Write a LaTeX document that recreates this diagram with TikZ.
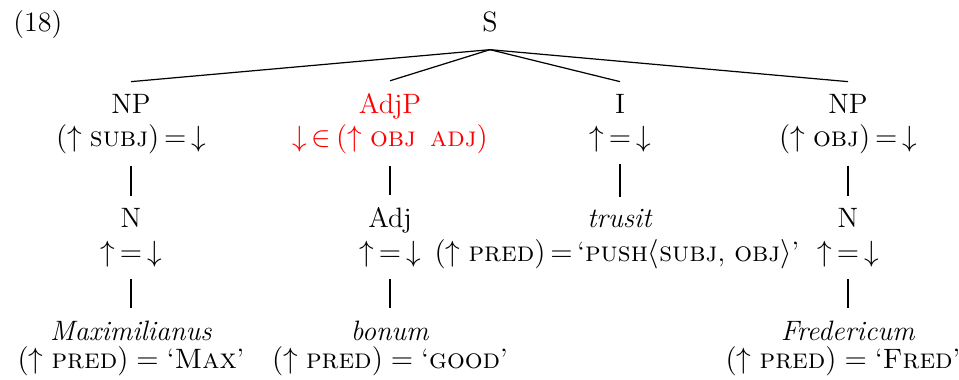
\documentclass[tikz,border=0pt]{standalone}
\usetikzlibrary{positioning}

\begin{document}
\begin{tikzpicture}[
x = 0.41pt, y = -0.41pt,
every node/.style = {
	font = \fontsize{11.5}{14}\selectfont,
	anchor = base,
	inner sep = 0pt
},
cat/.style = {
	outer sep = 5pt
},
feat/.style = {
	outer sep = 5pt
},
branch/.style = {
	line width = 0.5pt
}
]
\useasboundingbox (0,0) rectangle (959,379);

\node (exnum) [anchor=base west] at (13,32) {(18)};
\node (s) [cat, outer sep=7pt] at (490,32) {S};

% level 1
\node (np1) [cat] at (131,113) {NP};
\node (np1eq) [feat] at (131,146) {$(\uparrow \textsc{subj})\,{=}\,{\downarrow}$};

\node (adjp) [cat, text=red] at (390,113) {AdjP};
\node (adjpeq) [feat, text=red] at (390,146) {${\downarrow}\,{\in}\,(\uparrow \textsc{obj}\enspace\textsc{adj})$};

\node (i) [cat] at (620,113) {I};
\node (ieq) [feat] at (620,146) {${\uparrow}\,{=}\,{\downarrow}$};

\node (np2) [cat] at (848,113) {NP};
\node (np2eq) [feat] at (848,146) {$(\uparrow \textsc{obj})\,{=}\,{\downarrow}$};

% level 2
\node (n1) [cat] at (131,227) {N};
\node (n1eq) [feat] at (131,261) {${\uparrow}\,{=}\,{\downarrow}$};

\node (adj) [cat] at (390,227) {Adj};
\node (adjeq) [feat] at (390,261) {${\uparrow}\,{=}\,{\downarrow}$};

\node (verb) [cat] at (620,227) {\textit{trusit}};
\node (verbeq) [feat] at (617,261) {$(\uparrow \textsc{pred})\,{=}\,\mbox{`\textsc{push}}\langle\mbox{\textsc{subj}, \textsc{obj}}\rangle\mbox{'}$};

\node (n2) [cat] at (848,227) {N};
\node (n2eq) [feat] at (848,261) {${\uparrow}\,{=}\,{\downarrow}$};

% level 3
\node (max) [cat] at (131,340) {\textit{Maximilianus}};
\node (maxeq) [feat] at (131,368) {$(\uparrow \textsc{pred}) = \mbox{`\textsc{Max}'}$};

\node (bonum) [cat] at (390,340) {\textit{bonum}};
\node (bonumeq) [feat] at (390,368) {$(\uparrow \textsc{pred}) = \mbox{`\textsc{good}'}$};

\node (fred) [cat] at (848,340) {\textit{Fredericum}};
\node (fredeq) [feat] at (843,368) {$(\uparrow \textsc{pred}) = \mbox{`\textsc{Fred}'}$};

% branches
\foreach \d in {np1, adjp, i, np2}
	\draw [branch] (s.south) -- (\d.north);
\foreach \u/\d in {np1eq/n1, adjpeq/adj, ieq/verb, np2eq/n2, n1eq/max, adjeq/bonum, n2eq/fred}
	\draw [branch] (\u.south) -- (\u.south |- \d.north);

\end{tikzpicture}
\end{document}
